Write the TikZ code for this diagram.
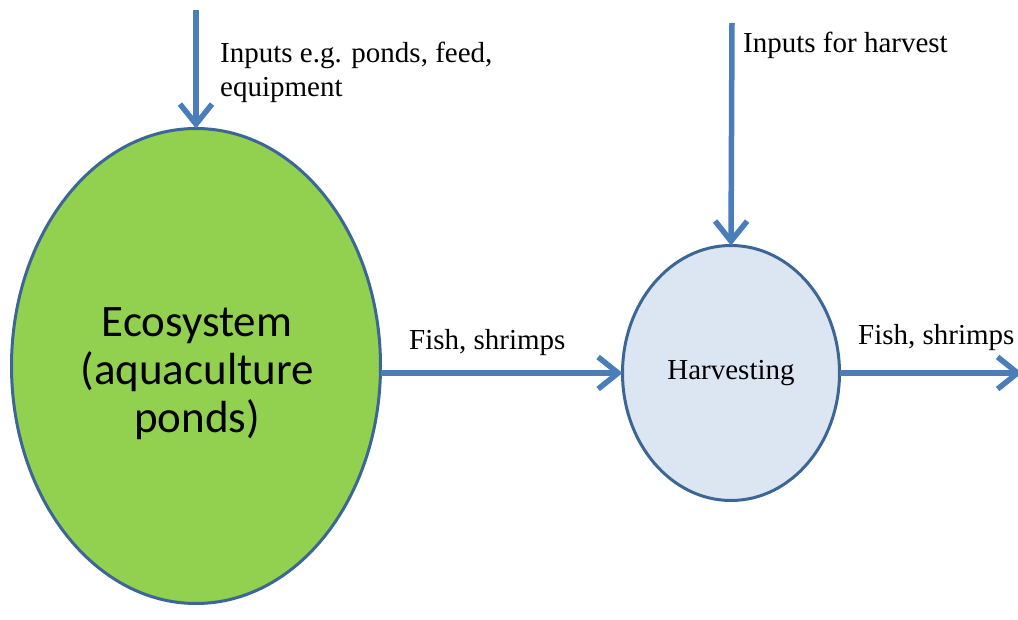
\documentclass[tikz,border=0pt]{standalone}
\usepackage{fontspec}
\setmainfont{Liberation Serif}
\newfontfamily\calib{Carlito}
\usetikzlibrary{arrows.meta,shapes.geometric}
\definecolor{arrowblue}{HTML}{4A7EBB}
\definecolor{edgeblue}{HTML}{3C6696}
\definecolor{pondgreen}{HTML}{92D050}
\definecolor{harvfill}{HTML}{DCE6F2}
\begin{document}
\begin{tikzpicture}[x=1pt,y=-1pt,
  flow/.style={draw=arrowblue, line width=5.5pt, -{Straight Barb[length=20pt,width=32pt]}},
  lab/.style={anchor=base west, inner sep=0pt, align=left, font=\fontsize{29}{34}\selectfont},
  blob/.style={ellipse, draw=edgeblue, line width=3pt, inner sep=0pt, outer sep=0pt}]
\useasboundingbox (0,0) rectangle (1018,620);
\node[blob, fill=pondgreen, minimum width=369pt, minimum height=475pt] (eco) at (196,366) {};
\node[align=center, inner sep=0pt, font=\calib\fontsize{45}{48}\selectfont] (ecotext) at (197,374) {Ecosystem\\(aquaculture\\ponds)};
\node[blob, fill=harvfill, minimum width=217pt, minimum height=255pt, font=\fontsize{29}{30}\selectfont] (harv) at (731,373) {Harvesting};
\coordinate (in1) at (196,10);
\coordinate (in2) at (732,23);
\coordinate (out) at (1022,375);
\draw[flow] (in1) -- (eco.north);
\draw[flow] (in2) -- (harv.north);
\draw[flow] (eco.east |- harv.west) -- (harv.west);
\draw[flow] (harv.east) -- (harv.east -| out);
\node[lab] (l1) at (220,97) {Inputs e.g. ponds, feed,\\equipment};
\node[lab] (l2) at (743,53) {Inputs for harvest};
\node[lab] (l3) at (409,350) {Fish, shrimps};
\node[lab] (l4) at (858,345) {Fish, shrimps};
\end{tikzpicture}
\end{document}
